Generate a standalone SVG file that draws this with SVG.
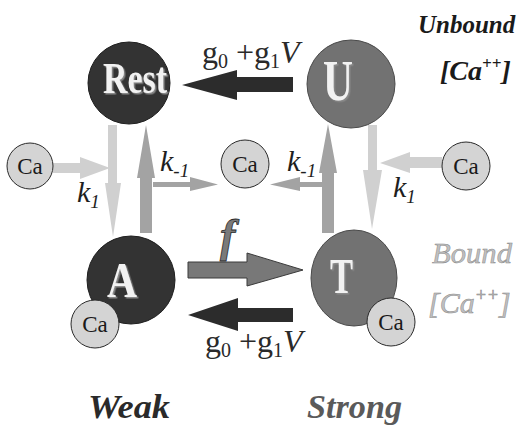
<svg xmlns="http://www.w3.org/2000/svg" width="527" height="432" viewBox="0 0 527 432" font-family="'Liberation Serif','DejaVu Serif',serif">
<style>
.bg{fill:#ffffff}
.dark{fill:#333333;stroke:#1e1e1e;stroke-width:1}
.mid{fill:#727272;stroke:#4a4a4a;stroke-width:1}
.ca{fill:#d4d4d4;stroke:#2a2a2a;stroke-width:1}
.catxt{font-size:23px;fill:#1a1a1a;text-anchor:middle}
.big{font-weight:bold;fill:#f2f2f2}
.lt{fill:#d0d0d0}
.md{fill:#a3a3a3}
.blk{fill:#2c2c2c}
.farrow{fill:#787878;stroke:#3a3a3a;stroke-width:1}
.rate{font-size:32px;fill:#2a2a2a}
.k{font-style:italic;font-size:30px;fill:#1e1e1e}
.hdr{font-style:italic;font-weight:bold}
</style>
<defs>
  <filter id="emboss" x="-20%" y="-20%" width="150%" height="150%">
    <feDropShadow dx="1.5" dy="1.5" stdDeviation="0.6" flood-color="#8a8a8a" flood-opacity="1"/>
  </filter>
</defs>
<rect class="bg" x="0" y="0" width="527" height="432"/>

<g id="connectors">
  <polygon class="lt" points="53,163 80,163 80,157 110,168 80,179 80,173 53,173"/>
  <polygon class="lt" points="108,125 117,125 117,183 121,183 113,237 105,183 108,183"/>
  <polygon class="md" points="140,233 152,233 152,178 155,178 146,125 137,178 140,178"/>
  <polygon class="md" points="153,182 190,182 190,177 218,184.5 190,191 190,187 153,187"/>
  <polygon class="md" points="322,233 334,233 334,173 337,173 328,124 319,173 322,173"/>
  <polygon class="md" points="323,182 300,182 300,177 270,184.5 300,191 300,187 323,187"/>
  <polygon class="lt" points="368,125 377,125 377,170 382,170 372,229 363,170 368,170"/>
  <polygon class="lt" points="442,157 410,157 410,152 380,163 410,173 410,168 442,168"/>
  <polygon class="blk" points="293,77 237,77 237,70 182,85 237,100 237,92 293,92"/>
  <polygon class="farrow" points="188,262 247,262 247,253 303,270 247,286 247,278 188,278"/>
  <polygon class="blk" points="293,308 238,308 238,298 188,315 238,331 238,322 293,322"/>
</g>

<g id="labels">
  <text class="rate" x="202" y="63">g<tspan font-size="20" dy="5">0</tspan><tspan dy="-5"> +g</tspan><tspan font-size="20" dy="5">1</tspan><tspan dy="-5" font-style="italic">V</tspan></text>
  <text class="rate" x="205" y="352">g<tspan font-size="20" dy="5">0</tspan><tspan dy="-5"> +g</tspan><tspan font-size="20" dy="5">1</tspan><tspan dy="-5" font-style="italic">V</tspan></text>
  <text x="220" y="251" font-style="italic" font-weight="bold" font-size="46" fill="#7a7a7a" stroke="#2a2a2a" stroke-width="0.8">f</text>
  <text class="k" x="77" y="202">k<tspan font-size="19" dy="6">1</tspan></text>
  <text class="k" x="393" y="197">k<tspan font-size="19" dy="6">1</tspan></text>
  <text class="k" x="160" y="171">k<tspan font-size="19" dy="6">-1</tspan></text>
  <text class="k" x="287" y="171">k<tspan font-size="19" dy="6">-1</tspan></text>
</g>

<g id="node-rest">
  <circle class="dark" cx="129" cy="83" r="41"/>
  <text class="big" filter="url(#emboss)" x="103" y="93" font-size="44" textLength="64" lengthAdjust="spacingAndGlyphs">Rest</text>
</g>

<g id="node-u">
  <circle class="mid" cx="351" cy="84" r="44"/>
  <text class="big" filter="url(#emboss)" x="323" y="100" font-size="56" textLength="30" lengthAdjust="spacingAndGlyphs">U</text>
</g>

<g id="node-a">
  <circle class="dark" cx="131" cy="280" r="44"/>
  <text class="big" filter="url(#emboss)" x="107" y="297" font-size="50" textLength="30" lengthAdjust="spacingAndGlyphs">A</text>
  <g id="node-a-ca">
    <circle class="ca" cx="95" cy="324" r="24"/>
    <text class="catxt" x="95" y="332">Ca</text>
  </g>
</g>

<g id="node-t">
  <ellipse class="mid" cx="354" cy="278" rx="43" ry="48"/>
  <text class="big" filter="url(#emboss)" x="330" y="293" font-size="50" textLength="23" lengthAdjust="spacingAndGlyphs">T</text>
  <g id="node-t-ca">
    <circle class="ca" cx="391" cy="322" r="24"/>
    <text class="catxt" x="391" y="330">Ca</text>
  </g>
</g>

<g id="node-ca-left">
  <circle class="ca" cx="30" cy="166" r="23"/>
  <text class="catxt" x="30" y="174">Ca</text>
</g>
<g id="node-ca-center">
  <circle class="ca" cx="245" cy="164" r="24"/>
  <text class="catxt" x="245" y="172">Ca</text>
</g>
<g id="node-ca-right">
  <circle class="ca" cx="466" cy="166" r="24"/>
  <text class="catxt" x="466" y="174">Ca</text>
</g>

<g id="headers">
  <text class="hdr" x="418" y="33" font-size="25" fill="#1a1a1a">Unbound</text>
  <text class="hdr" x="440" y="80" font-size="28" fill="#1a1a1a">[Ca<tspan font-size="17" dy="-11">++</tspan><tspan dy="11">]</tspan></text>
  <text x="432" y="263" font-style="italic" font-size="30" fill="#c0c0c0" stroke="#8a8a8a" stroke-width="0.5" textLength="80" lengthAdjust="spacingAndGlyphs">Bound</text>
  <text x="428" y="313" font-style="italic" font-size="30" fill="#c0c0c0" stroke="#8a8a8a" stroke-width="0.5">[Ca<tspan font-size="18" dy="-12">++</tspan><tspan dy="12">]</tspan></text>
  <text class="hdr" x="88" y="418" font-size="34" fill="#2a2a2a" textLength="82" lengthAdjust="spacingAndGlyphs">Weak</text>
  <text class="hdr" x="307" y="418" font-size="34" fill="#5a5a5a" textLength="95" lengthAdjust="spacingAndGlyphs">Strong</text>
</g>
</svg>
